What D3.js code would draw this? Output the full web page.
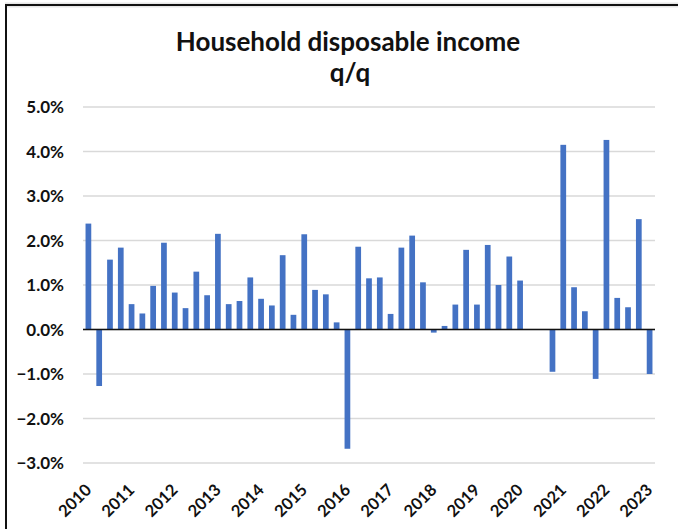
<!DOCTYPE html>
<html>
<head>
<meta charset="utf-8">
<script src="https://cdn.jsdelivr.net/npm/d3@7"></script>
<style>
  html, body { margin: 0; padding: 0; background: #fff; }
  svg { display: block; }
  text { font-family: Lato, "Liberation Sans", sans-serif; font-weight: bold; fill: #111; }
</style>
</head>
<body>
<svg id="chart" width="678" height="529"></svg>
<script>
const years = ["2010","2011","2012","2013","2014","2015","2016","2017","2018","2019","2020","2021","2022","2023"];
const quarters = ["Q1","Q2","Q3","Q4"];
const categories = [];
years.forEach(y => quarters.forEach(q => { if (!(y === "2023" && q !== "Q1")) categories.push(y + q); }));

// q/q % change in household disposable income (null = not shown)
const values = [
  2.38, -1.27, 1.57, 1.84,
  0.57, 0.36, 0.98, 1.95,
  0.83, 0.48, 1.30, 0.77,
  2.15, 0.57, 0.64, 1.17,
  0.69, 0.54, 1.67, 0.33,
  2.14, 0.89, 0.79, 0.16,
  -2.68, 1.86, 1.15, 1.17,
  0.35, 1.84, 2.11, 1.06,
  -0.07, 0.08, 0.56, 1.79,
  0.56, 1.90, 1.00, 1.64,
  1.10, null, null, -0.95,
  4.15, 0.95, 0.41, -1.11,
  4.26, 0.71, 0.50, 2.48,
  -1.00
];
const yTicks = [-3, -2, -1, 0, 1, 2, 3, 4, 5];
const tickLabels = years.map(y => y + "Q1");
const title = "Household disposable income";
const subtitle = "q/q";

const svg = d3.select("#chart");

// frame
svg.append("line").attr("x1", 5).attr("x2", 678).attr("y1", 5).attr("y2", 5)
  .attr("stroke", "#e6e6e6").attr("stroke-width", 5);
svg.append("line").attr("x1", 5).attr("x2", 678).attr("y1", 5).attr("y2", 5)
  .attr("stroke", "#111").attr("stroke-width", 2);
svg.append("line").attr("x1", 6).attr("x2", 6).attr("y1", 4).attr("y2", 529)
  .attr("stroke", "#111").attr("stroke-width", 2);

const x = d3.scaleBand().domain(categories).range([83, 655]).paddingInner(0.47).paddingOuter(0.235);
const y = d3.scaleLinear().domain([-3, 5]).range([463, 107]);

// gridlines
svg.append("g").selectAll("line").data(yTicks).join("line")
  .attr("x1", 83).attr("x2", 655)
  .attr("y1", d => y(d)).attr("y2", d => y(d))
  .attr("stroke", "#d9d9d9").attr("stroke-width", 1.3);

// y labels
svg.append("g").selectAll("text").data(yTicks).join("text")
  .attr("x", 64).attr("y", d => y(d)).attr("dy", "0.36em")
  .attr("text-anchor", "end").attr("font-size", 17)
  .text(d => d3.format(".1f")(d) + "%");

// bars
const data = categories.map((c, i) => ({ c, v: values[i] })).filter(d => d.v !== null);
svg.append("g").selectAll("rect").data(data).join("rect")
  .attr("x", d => x(d.c))
  .attr("width", x.bandwidth())
  .attr("y", d => y(Math.max(0, d.v)))
  .attr("height", d => Math.abs(y(d.v) - y(0)))
  .attr("fill", "#4472C4");

// zero line
svg.append("line").attr("x1", 83).attr("x2", 655).attr("y1", y(0)).attr("y2", y(0))
  .attr("stroke", "#111").attr("stroke-width", 1.5);

// x labels
svg.append("g").selectAll("text").data(tickLabels).join("text")
  .attr("transform", d => `translate(${x(d) + x.bandwidth() / 2 + 4},${463 + 28}) rotate(-45)`)
  .attr("text-anchor", "end").attr("font-size", 16.5)
  .text(d => d.slice(0, 4));

// titles
svg.append("text").attr("x", 348).attr("y", 51).attr("text-anchor", "middle")
  .attr("font-size", 26).text(title);
svg.append("text").attr("x", 350).attr("y", 82).attr("text-anchor", "middle")
  .attr("font-size", 26).text(subtitle);
</script>
</body>
</html>
